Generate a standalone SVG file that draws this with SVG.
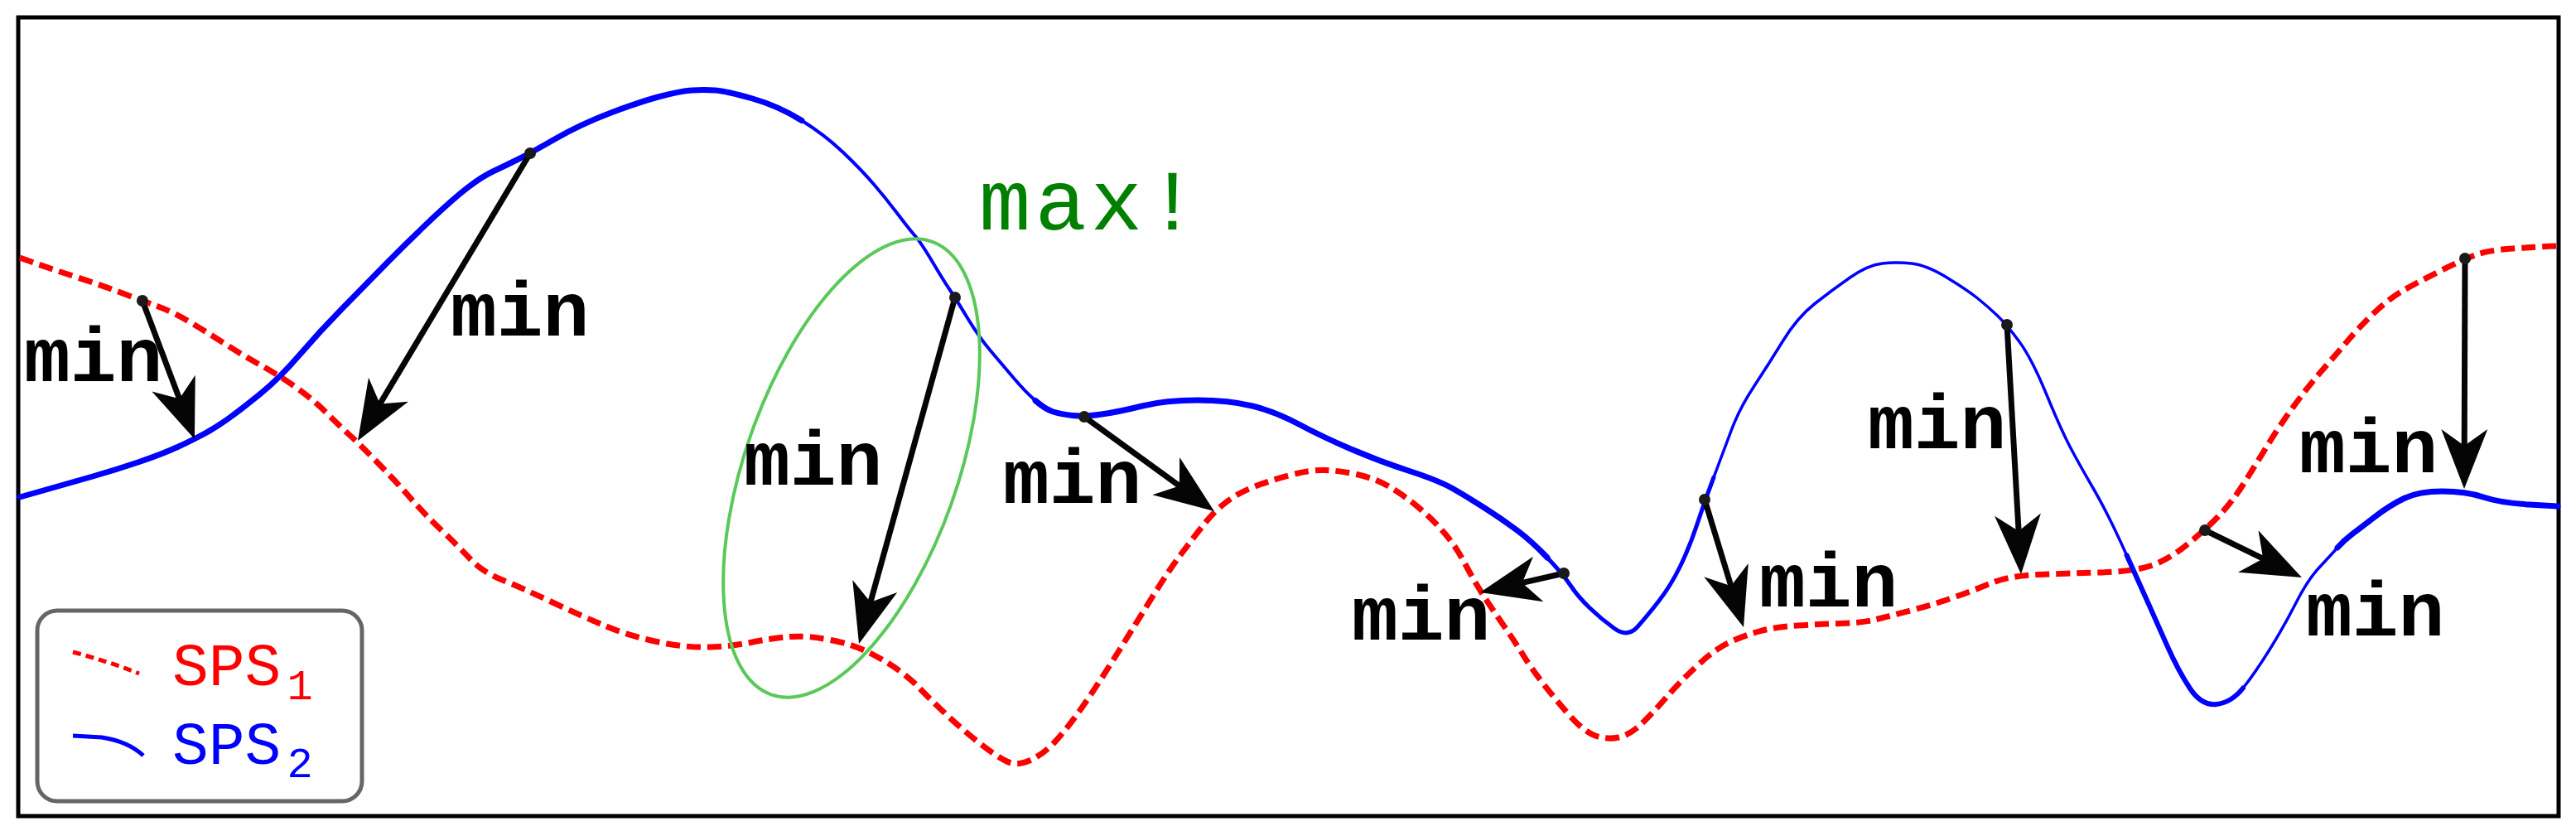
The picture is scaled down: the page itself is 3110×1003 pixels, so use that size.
<svg xmlns="http://www.w3.org/2000/svg" width="3110" height="1003" viewBox="0 0 3110 1003">
<style>
.blue{fill:none;stroke:#0000ff;stroke-linejoin:round;stroke-linecap:round}
.red{fill:none;stroke:#ff0000;stroke-width:7;stroke-dasharray:17 8;stroke-linejoin:round}
.arr{fill:none;stroke:#050505;stroke-width:7;marker-end:url(#ah)}
.dot{fill:#1a1a1a}
.min{font-family:"Liberation Mono","DejaVu Sans Mono",monospace;font-weight:bold;font-size:93px;fill:#000}
.leg{font-family:"Liberation Mono","DejaVu Sans Mono",monospace;font-size:73px}
</style>
<defs>
<marker id="ah" markerUnits="userSpaceOnUse" viewBox="-25 -30 80 60" markerWidth="80" markerHeight="60" refX="0" refY="0" orient="auto" overflow="visible">
<path d="M50,0 L-22,-28 L-2,0 L-22,28 Z" fill="#050505"/>
</marker>
</defs>
<rect x="0" y="0" width="3110" height="1003" fill="#fff"/>
<rect id="frame" x="22" y="21" width="3067" height="964" fill="none" stroke="#000" stroke-width="5"/>

<g id="sps1-curve">
<path class="red" d="M24,311 L43.5,318 Q63,325 91,334 Q119,343 145.5,353 Q172,363 191,370 Q210,377 231.5,390 Q253,403 274,416.5 Q295,430 316,441.5 Q337,453 358,468 Q379,483 396.5,500.5 Q414,518 422.5,525.5 Q431,533 454,556.5 Q477,580 494.5,600 Q512,620 533,640 Q554,660 568,675 Q582,690 606.5,700 Q631,710 666,726.5 Q701,743 729.5,755 Q758,767 793,774.5 Q828,782 856,781 Q884,780 908.5,775 Q933,770 954,768.5 Q975,767 1003,772.5 Q1031,778 1052,789 Q1073,800 1086.5,810 Q1100,820 1109.5,830 Q1119,840 1140,860 Q1161,880 1182,896.5 Q1203,913 1215.5,919 Q1228,925 1244,917.5 Q1260,910 1274,895 Q1288,880 1305.5,855 Q1323,830 1344,796.5 Q1365,763 1387.5,726.5 Q1410,690 1425,670 Q1440,650 1453,633.5 Q1466,617 1480.5,606 Q1495,595 1514,587.5 Q1533,580 1557.5,573.5 Q1582,567 1599.5,567.5 Q1617,568 1638,572.5 Q1659,577 1676.5,587 Q1694,597 1712,612 Q1730,627 1744,643.5 Q1758,660 1768.5,680 Q1779,700 1789.5,716.5 Q1800,733 1814,753 Q1828,773 1838.5,790 Q1849,807 1863,825 Q1877,843 1894.5,863 Q1912,883 1926,888 Q1940,893 1954,890 Q1968,887 1982,873.5 Q1996,860 2012,841.5 Q2028,823 2049.5,803 Q2071,783 2088.5,775 Q2106,767 2124,762 Q2142,757 2170,755 Q2198,753 2223,752.5 Q2248,752 2265.5,747.5 Q2283,743 2308,736.5 Q2333,730 2357.5,721.5 Q2382,713 2403.5,704 Q2425,695 2460.5,693.5 Q2496,692 2534.5,691 Q2573,690 2594.5,683.5 Q2616,677 2639,658.5 Q2662,640 2678,623.5 Q2694,607 2708,585 Q2722,563 2736,540 Q2750,517 2768,492 Q2786,467 2803.5,447 Q2821,427 2835.5,410 Q2850,393 2867.5,376.5 Q2885,360 2902.5,350 Q2920,340 2948,326 Q2976,312 2990.5,307 Q3005,302 3033.5,300 Q3062,298 3088,297"/>
</g>

<g id="sps2-curve">
<path class="blue" stroke-width="7" d="M24,600 L54,591.5 Q84,583 112,575 Q140,567 168,557.5 Q196,548 215.5,539 Q235,530 248.5,522.5 Q262,515 276,505 Q290,495 313.5,476 Q337,457 361.5,428.5 Q386,400 414,371.5 Q442,343 466.5,318 Q491,293 519,266.5 Q547,240 564.5,226.5 Q582,213 596,206.5 Q610,200 625,192.5 Q640,185 670.5,167.5 Q701,150 736.5,136.5 Q772,123 796.5,116.5 Q821,110 835.5,109 Q850,108 863.5,109 Q877,110 908.5,119 Q940,128 968,145.5"/>
<path class="blue" stroke-width="4" d="M968,145.5 Q996,163 1018,184 Q1040,205 1055,222.5 Q1070,240 1084,258.5 Q1098,277 1105,285 Q1112,293 1126,316.5 Q1140,340 1146.5,349.5 Q1153,359 1167.5,383 Q1182,407 1196,423.5 Q1210,440 1224,456.5 Q1238,473 1250,483.5"/>
<path class="blue" stroke-width="7" d="M1250,483.5 Q1262,494 1271.5,497 Q1281,500 1295,501.5 Q1309,503 1330,500 Q1351,497 1379,490 Q1407,483 1445.5,483 Q1484,483 1512,490 Q1540,497 1568,512 Q1596,527 1631,542 Q1666,557 1701.5,568.5 Q1737,580 1754.5,590 Q1772,600 1793,613.5 Q1814,627 1831.5,640 Q1849,653 1868,673"/>
<path class="blue" stroke-width="5" d="M1868,673 Q1887,693 1896,706.5 Q1905,720 1919,733.5 Q1933,747 1949,758.5 Q1965,770 1977,756.5 Q1989,743 2003,725 Q2017,707 2028.5,683.5 Q2040,660 2049,632.5 Q2058,605 2069,576"/>
<path class="blue" stroke-width="3.5" d="M2069,576 Q2080,547 2090,520 Q2100,493 2117.5,466.5 Q2135,440 2152.5,411.5 Q2170,383 2191,366.5 Q2212,350 2233.5,335 Q2255,320 2272.5,318 Q2290,316 2308,318 Q2326,320 2350.5,335 Q2375,350 2387.5,360 Q2400,370 2411.5,381 Q2423,392 2438,412.5 Q2453,433 2470.5,475.5 Q2488,518 2499,539 Q2510,560 2527.5,590 Q2545,620 2567.5,670"/>
<path class="blue" stroke-width="6" d="M2567.5,670 Q2590,720 2596,733.5 Q2602,747 2616,778.5 Q2630,810 2644,831 Q2658,852 2676,850 Q2694,848 2708,830.5"/>
<path class="blue" stroke-width="3.5" d="M2708,830.5 Q2722,813 2739.5,785 Q2757,757 2771.5,728.5 Q2786,700 2800,685 Q2814,670 2822,661"/>
<path class="blue" stroke-width="7" d="M2822,661 Q2830,652 2840,644.5 Q2850,637 2867.5,623.5 Q2885,610 2902.5,601.5 Q2920,593 2948.5,593 Q2977,593 2998,600 Q3019,607 3053.5,609 L3088,611"/>
</g>

<g id="max-ellipse">
<ellipse cx="1028" cy="565" rx="290" ry="128" transform="rotate(-70.45 1028 565)" fill="none" stroke="#5ac85a" stroke-width="4"/>
<text x="1182" y="277" font-family="'Liberation Mono','DejaVu Sans Mono',monospace" font-size="104" letter-spacing="5" fill="#008000">max!</text>
</g>

<g id="connectors">
<line class="arr" x1="172" y1="363" x2="217.3" y2="483.2"/>
<line class="arr" x1="640" y1="185" x2="457.7" y2="489.1"/>
<line class="arr" x1="1153" y1="359" x2="1050.4" y2="728.8"/>
<line class="arr" x1="1309" y1="503" x2="1425.5" y2="587.6"/>
<line class="arr" x1="1888" y1="692" x2="1835.8" y2="703.9"/>
<line class="arr" x1="2058" y1="603" x2="2090.4" y2="709.1"/>
<line class="arr" x1="2423" y1="392" x2="2437.2" y2="643.1"/>
<line class="arr" x1="2976" y1="312" x2="2975.2" y2="540"/>
<line class="arr" x1="2662" y1="640" x2="2734" y2="675.1"/>
</g>

<g id="points">
<circle class="dot" cx="172" cy="363" r="7"/>
<circle class="dot" cx="640" cy="185" r="7"/>
<circle class="dot" cx="1153" cy="359" r="7"/>
<circle class="dot" cx="1309" cy="503" r="7"/>
<circle class="dot" cx="1888" cy="692" r="7"/>
<circle class="dot" cx="2058" cy="603" r="7"/>
<circle class="dot" cx="2423" cy="392" r="7"/>
<circle class="dot" cx="2976" cy="312" r="7"/>
<circle class="dot" cx="2662" cy="640" r="7"/>
</g>

<g id="labels">
<text class="min" x="29" y="460">min</text>
<text class="min" x="544" y="405">min</text>
<text class="min" x="898" y="585">min</text>
<text class="min" x="1211" y="607">min</text>
<text class="min" x="1632" y="772">min</text>
<text class="min" x="2124" y="732">min</text>
<text class="min" x="2255" y="541">min</text>
<text class="min" x="2776" y="570">min</text>
<text class="min" x="2784" y="767">min</text>
</g>

<g id="legend">
<rect x="45" y="737" width="392" height="230" rx="24" ry="24" fill="#fff" stroke="#666" stroke-width="5"/>
<path d="M88,787 Q130,798 168,813" fill="none" stroke="#ff0000" stroke-width="5" stroke-dasharray="10 6"/>
<path d="M88,888 L123,890 Q155,895 173,912" fill="none" stroke="#0000ff" stroke-width="5"/>
<text class="leg" x="208" y="827" fill="#ff0000">SPS<tspan font-size="52" dx="7" dy="17">1</tspan></text>
<text class="leg" x="208" y="922" fill="#0000ff">SPS<tspan font-size="52" dx="7" dy="16">2</tspan></text>
</g>
</svg>
